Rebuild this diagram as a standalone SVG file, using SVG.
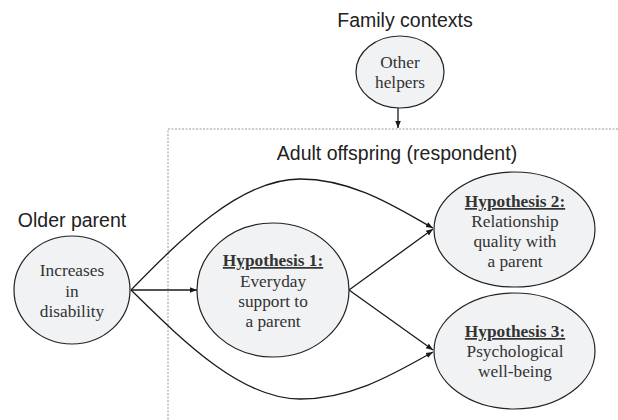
<svg xmlns="http://www.w3.org/2000/svg" width="618" height="420" viewBox="0 0 618 420">
<style>
.title{font-family:"Liberation Sans",Arial,sans-serif;font-size:19.5px;fill:#222;text-anchor:middle}
.node{fill:#f1f2f4;stroke:#222;stroke-width:1.2}
.lbl{font-family:"Liberation Serif","Times New Roman",serif;font-size:17.3px;fill:#333;text-anchor:middle}
.hyp{font-weight:bold;text-decoration:underline}
.conn{fill:none;stroke:#1a1a1a;stroke-width:1.3}
.box{fill:none;stroke:#999;stroke-width:1;stroke-dasharray:2 1.5}
</style>
<defs>
<marker id="ah" viewBox="0 0 10 10" refX="10" refY="5" markerWidth="7" markerHeight="7" markerUnits="userSpaceOnUse" orient="auto">
<path d="M0,1 L10,5 L0,9 z" fill="#1a1a1a"/>
</marker>
</defs>
<rect width="618" height="420" fill="#fff"/>
<path class="box" d="M618,129 H168 V420"/>
<text class="title" x="405" y="27">Family contexts</text>
<text class="title" x="397" y="160">Adult offspring (respondent)</text>
<text class="title" x="72" y="227">Older parent</text>
<g id="connectors">
<line class="conn" x1="398" y1="108" x2="398" y2="128" marker-end="url(#ah)"/>
<line class="conn" x1="131" y1="290" x2="197" y2="290" marker-end="url(#ah)"/>
<path class="conn" d="M131,290 C180,240 240,179 300,179 C355,179 400,210 433,228" marker-end="url(#ah)"/>
<path class="conn" d="M131,290 C180,338 240,399 300,399 C355,399 400,370 433,352" marker-end="url(#ah)"/>
<line class="conn" x1="349" y1="290" x2="433" y2="229" marker-end="url(#ah)"/>
<line class="conn" x1="349" y1="290" x2="433" y2="350" marker-end="url(#ah)"/>
</g>
<g id="other-helpers">
<ellipse class="node" cx="400" cy="72" rx="44" ry="36"/>
<text class="lbl" x="400" y="68">Other</text>
<text class="lbl" x="400" y="88">helpers</text>
</g>
<g id="older-parent">
<ellipse class="node" cx="72" cy="290" rx="58" ry="54"/>
<text class="lbl" x="72" y="276">Increases</text>
<text class="lbl" x="72" y="297">in</text>
<text class="lbl" x="72" y="317">disability</text>
</g>
<g id="hypothesis-1">
<ellipse class="node" cx="273" cy="290" rx="76" ry="67"/>
<text class="lbl hyp" x="273" y="266">Hypothesis 1:</text>
<text class="lbl" x="273" y="287">Everyday</text>
<text class="lbl" x="273" y="307">support to</text>
<text class="lbl" x="273" y="327">a parent</text>
</g>
<g id="hypothesis-2">
<ellipse class="node" cx="514.5" cy="229.5" rx="80.5" ry="57.5"/>
<text class="lbl hyp" x="515" y="207">Hypothesis 2:</text>
<text class="lbl" x="515" y="227">Relationship</text>
<text class="lbl" x="515" y="247">quality with</text>
<text class="lbl" x="515" y="267">a parent</text>
</g>
<g id="hypothesis-3">
<ellipse class="node" cx="514.5" cy="351" rx="80.5" ry="58"/>
<text class="lbl hyp" x="515" y="337">Hypothesis 3:</text>
<text class="lbl" x="515" y="357">Psychological</text>
<text class="lbl" x="515" y="377">well-being</text>
</g>
</svg>
